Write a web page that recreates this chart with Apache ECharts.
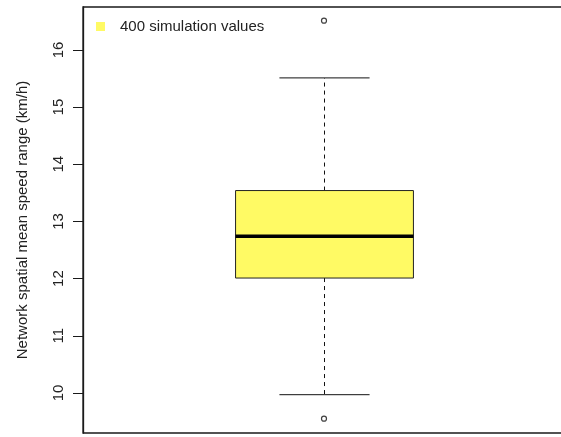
<!DOCTYPE html>
<html><head><meta charset="utf-8">
<script src="https://cdn.jsdelivr.net/npm/echarts@6/dist/echarts.min.js"></script>
<style>html,body{margin:0;padding:0;background:#fff}#c{width:561px;height:437px}</style>
</head><body><div id="c"></div>
<script>
var seriesName = '400 simulation values';
var groupPos = [0];
// [whiskerLow, Q1, median, Q3, whiskerHigh]
var boxStats = [9.97, 12.01, 12.74, 13.54, 15.51];
var outliers = [16.51, 9.55];
var yTicks = [10, 11, 12, 13, 14, 15, 16];

var chart = echarts.init(document.getElementById('c'), null, {renderer: 'canvas'});
var FONT = 'Arial, "Liberation Sans", sans-serif';
chart.setOption({
  animation: false,
  backgroundColor: '#fff',
  textStyle: {fontFamily: FONT},
  grid: {left: 83, top: 7, width: 723, height: 426, outerBoundsMode: 'none', containLabel: false,
         show: true, borderColor: '#1a1a1a', borderWidth: 1.3, backgroundColor: 'transparent'},
  legend: {
    data: [seriesName], left: 91, top: 14, icon: 'rect', itemWidth: 9, itemHeight: 9,
    textStyle: {fontSize: 15, color: '#222', fontFamily: FONT, padding: [0, 0, 0, 10]}
  },
  xAxis: {type: 'value', min: -1, max: 2, axisLine: {show: false, onZero: false}, axisTick: {show: false}, axisLabel: {show: false}, splitLine: {show: false}},
  yAxis: {
    type: 'value', min: 9.3, max: 16.75,
    name: 'Network spatial mean speed range (km/h)', nameLocation: 'middle', nameRotate: 90, nameGap: 53,
    nameTextStyle: {fontSize: 15, color: '#222', fontFamily: FONT},
    axisLine: {show: true, onZero: false, lineStyle: {color: '#1a1a1a', width: 1.3}},
    axisTick: {show: true, length: 10, inside: false, customValues: yTicks, lineStyle: {color: '#1a1a1a'}},
    axisLabel: {rotate: 90, margin: 17, fontSize: 15, color: '#222', fontFamily: FONT, customValues: yTicks, formatter: function(v){return String(v);}},
    splitLine: {show: false}
  },
  series: [
    {
      name: seriesName, type: 'custom',
      itemStyle: {color: '#FFFA64'},
      data: [groupPos.concat(boxStats)],
      renderItem: function (params, api) {
        var unit = api.size([1, 0])[0];
        var half = unit * 0.369;
        var capHalf = unit * 0.187;
        var lo = api.coord([api.value(0), api.value(1)]);
        var q1 = api.coord([api.value(0), api.value(2)]);
        var md = api.coord([api.value(0), api.value(3)]);
        var q3 = api.coord([api.value(0), api.value(4)]);
        var hi = api.coord([api.value(0), api.value(5)]);
        var cx = Math.round(lo[0]) + 0.5;
        var dash = {stroke: '#111', lineWidth: 1, lineDash: [4, 4]};
        var solid = {stroke: '#111', lineWidth: 1};
        return {type: 'group', children: [
          {type: 'line', shape: {x1: cx, y1: q3[1], x2: cx, y2: hi[1]}, style: dash},
          {type: 'line', shape: {x1: cx, y1: q1[1], x2: cx, y2: lo[1]}, style: dash},
          {type: 'line', shape: {x1: cx - capHalf, y1: hi[1], x2: cx + capHalf, y2: hi[1]}, style: solid},
          {type: 'line', shape: {x1: cx - capHalf, y1: lo[1], x2: cx + capHalf, y2: lo[1]}, style: solid},
          {type: 'rect', shape: {x: cx - half, y: q3[1], width: 2 * half, height: q1[1] - q3[1]}, style: {fill: '#FFFA64', stroke: '#222', lineWidth: 1}},
          {type: 'line', shape: {x1: cx - half, y1: md[1], x2: cx + half, y2: md[1]}, style: {stroke: '#000', lineWidth: 3.5}}
        ]};
      }
    },
    {
      name: 'outliers', type: 'scatter', symbol: 'circle', symbolSize: 5,
      itemStyle: {color: '#fff', borderColor: '#111', borderWidth: 1.2},
      data: outliers.map(function (v) { return [groupPos[0], v]; })
    }
  ]
});
</script></body></html>
